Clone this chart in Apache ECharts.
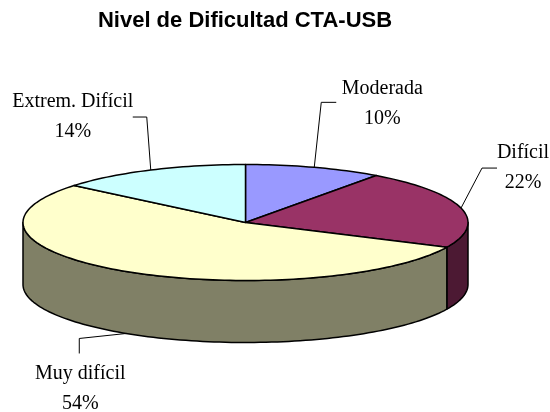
<!DOCTYPE html>
<html>
<head>
<meta charset="utf-8">
<style>html,body{margin:0;padding:0;background:#fff}#c{width:550px;height:412px}</style>
<script src="https://cdn.jsdelivr.net/npm/echarts@6/dist/echarts.min.js"></script>
</head>
<body>
<div id="c"></div>
<script>
var categories = ['Moderada', 'Difícil', 'Muy difícil', 'Extrem. Difícil'];
var percents = [10, 22, 54, 14];
var titleText = 'Nivel de Dificultad CTA-USB';

var topColors = ['#9999FF', '#993366', '#FFFFCC', '#CCFFFF'];
var wallColors = ['#4C4C80', '#4C1933', '#808066', '#668080'];
// Layout of the labels, relative to each slice's anchor on the rim: [elbow dx, elbow dy, end dx, end dy, label dx, label dy]
var leaderOffsets = [
  [7, -65, 22, -65, 68, -64],
  [21, -40, 36, -40, 62, -40],
  [-47, 5, -47, 20, -46, 55],
  [-4, -53, -18, -53, -78, -53]
];
var CX = 245.5, CY = 222.5, RX = 222.5, RY = 58, DEPTH = 62;

function rim(deg, dy) {
  var a = deg * Math.PI / 180;
  return [CX + RX * Math.sin(a), CY - RY * Math.cos(a) + (dy || 0)];
}
function arc(from, to, dy) {
  var pts = [], n = Math.max(2, Math.ceil(Math.abs(to - from) / 1.5));
  for (var i = 0; i <= n; i++) pts.push(rim(from + (to - from) * i / n, dy));
  return pts;
}
var total = percents.reduce(function (a, b) { return a + b; }, 0);
var starts = [];
percents.reduce(function (acc, v, i) { starts[i] = acc; return acc + v; }, 0);

var edge = { stroke: '#000', lineWidth: 1.5, lineJoin: 'round' };
function renderItem(params, api) {
  var i = params.dataIndex;
  var from = api.value(0) / total * 360;
  var to = from + api.value(1) / total * 360;
  var mid = (from + to) / 2;
  var kids = [];

  // Wall: only the front half of the rim (90..270 degrees) is visible
  var wf = Math.max(from, 90), wt = Math.min(to, 270);
  if (wt > wf) {
    var wall = arc(wf, wt, 0).concat(arc(wt, wf, DEPTH));
    kids.push({ type: 'polygon', shape: { points: wall },
      style: Object.assign({ fill: wallColors[i] }, edge) });
  }
  // Top face
  kids.push({ type: 'polygon', shape: { points: [[CX, CY]].concat(arc(from, to, 0)) },
    style: Object.assign({ fill: topColors[i] }, edge) });

  // Leader line from the slice's mid-angle rim point
  var front = mid > 90 && mid < 270;
  var p = rim(mid, front ? DEPTH : 0);
  var o = leaderOffsets[i];
  kids.push({ type: 'polyline',
    shape: { points: [p, [p[0] + o[0], p[1] + o[1]], [p[0] + o[2], p[1] + o[3]]] },
    style: { stroke: '#000', lineWidth: 1, fill: null } });
  kids.push({ type: 'text', style: {
    x: p[0] + o[4], y: p[1] + o[5], text: categories[i] + '\n' + api.value(1) + '%',
    align: 'center', verticalAlign: 'middle', lineHeight: 30,
    font: '20px "Liberation Serif"', fill: '#000' } });
  return { type: 'group', children: kids };
}

var chart = echarts.init(document.getElementById('c'), null, { renderer: 'canvas' });
chart.setOption({
  animation: false,
  backgroundColor: '#fff',
  title: {
    text: titleText, left: 245, textAlign: 'center', top: 10, padding: 0,
    textStyle: { fontFamily: 'Liberation Sans', fontWeight: 'bold', fontSize: 22, color: '#000' }
  },
  series: [{
    type: 'custom',
    coordinateSystem: 'none',
    renderItem: renderItem,
    silent: true,
    data: percents.map(function (v, i) { return [starts[i], v]; })
  }]
});
</script>
</body>
</html>
